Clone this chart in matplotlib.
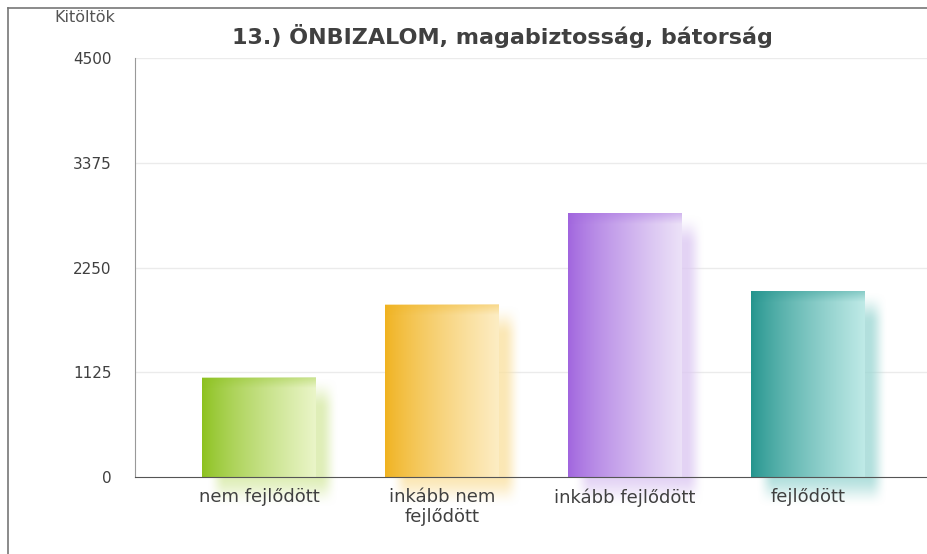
import numpy as np
import matplotlib
matplotlib.use("Agg")
import matplotlib.pyplot as plt
from matplotlib.colors import to_rgb
from matplotlib.lines import Line2D

categories = ["nem fejlődött", "inkább nem\nfejlődött", "inkább fejlődött", "fejlődött"]
values = [1063, 1847, 2825, 1987]
yticks = [0, 1125, 2250, 3375, 4500]
title = "13.) ÖNBIZALOM, magabiztosság, bátorság"
ylabel = "Kitöltök"
dark_colors = ["#8cc11e", "#f0b21e", "#a064de", "#23948d"]
light_colors = ["#eaf5c8", "#fdedc4", "#ece2f8", "#bfeae7"]

W, H = 928, 554
fig = plt.figure(figsize=(W / 100, H / 100), dpi=100)
fig.patch.set_facecolor("white")

ax = fig.add_axes([135 / W, (H - 477) / H, (W - 135) / W, (477 - 58) / H])
ax.set_xlim(-0.678, 3.656)
ax.set_ylim(0, 4500)

x = np.arange(len(categories))
bw = 0.62
bars = ax.bar(x, values, width=bw, color="none", edgecolor="none", zorder=3)

def hgrad(c0, c1, n=256):
    a = np.array(to_rgb(c0)); b = np.array(to_rgb(c1))
    t = np.linspace(0, 1, n)
    t = t ** 0.8
    img = a[None, :] * (1 - t[:, None]) + b[None, :] * t[:, None]
    return img[None, :, :]

def smooth(t):
    t = np.clip(t, 0, 1)
    return t * t * (3 - 2 * t)

for b, c0, c1 in zip(bars, dark_colors, light_colors):
    x0 = b.get_x(); w = b.get_width(); h = b.get_height()
    # shadow
    dx = 0.077; dy = 160
    sw = 0.05; sh = 170
    nx, ny = 120, 200
    ex0, ex1 = x0 + dx - sw, x0 + w + dx + sw
    ey0, ey1 = -dy - sh, h - dy + sh
    xs = np.linspace(ex0, ex1, nx)
    ys = np.linspace(ey1, ey0, ny)
    ax_ = smooth((xs - ex0) / (2 * sw)) * smooth((ex1 - xs) / (2 * sw))
    ay_ = smooth((ys - ey0) / (2 * sh)) * smooth((ey1 - ys) / (2 * sh))
    alpha = ay_[:, None] * ax_[None, :] * 0.8
    rgba = np.zeros((ny, nx, 4))
    rgba[..., :3] = np.array(to_rgb(c1)) * 0.8 + np.array(to_rgb(c0)) * 0.2
    rgba[..., 3] = alpha
    ax.imshow(rgba, extent=(ex0, ex1, ey0, ey1), aspect="auto", zorder=2,
              interpolation="bilinear", clip_on=False)
    # bar gradient
    ax.imshow(hgrad(c0, c1), extent=(x0, x0 + w, 0, h), aspect="auto",
              zorder=3, interpolation="bilinear")
    # slight darker top band
    top = np.zeros((40, 2, 4))
    top[..., :3] = np.array(to_rgb(c0))
    top[..., 3] = np.linspace(0.35, 0, 40)[:, None]
    ax.imshow(top, extent=(x0, x0 + w, h - 110, h), aspect="auto", zorder=4,
              interpolation="bilinear")

for v in yticks[1:]:
    ax.axhline(v, color="#ebebeb", linewidth=1, zorder=1)

ax.set_xlim(-0.678, 3.656)
ax.set_ylim(0, 4500)
ax.set_yticks(yticks)
ax.set_yticklabels([str(v) for v in yticks])
ax.set_xticks(x)
ax.set_xticklabels(categories)
ax.tick_params(axis="both", length=0, colors="#404040")
ax.tick_params(axis="y", labelsize=11, pad=17)
ax.tick_params(axis="x", labelsize=13, pad=8)
for lab in ax.get_xticklabels():
    lab.set_linespacing(1.15)
ax.xaxis.set_zorder(6)
ax.yaxis.set_zorder(6)
for s in ["top", "right"]:
    ax.spines[s].set_visible(False)
ax.spines["left"].set_color("#999999")
ax.spines["left"].set_zorder(5)
ax.spines["bottom"].set_color("#555555")
ax.spines["bottom"].set_zorder(5)

fig.text(502 / W, 1 - 36 / H, title, ha="center", va="center",
         fontsize=16, fontweight="bold", color="#404040")
fig.text(85 / W, 1 - 17 / H, ylabel, ha="center", va="center",
         fontsize=11.5, color="#555555")

# outer frame
fig.add_artist(Line2D([8 / W, 8 / W], [0, 1 - 8 / H], color="#777777", lw=1.2))
fig.add_artist(Line2D([8 / W, 1], [1 - 8 / H, 1 - 8 / H], color="#777777", lw=1.2))

fig.savefig("out.png", dpi=100, facecolor="white")
